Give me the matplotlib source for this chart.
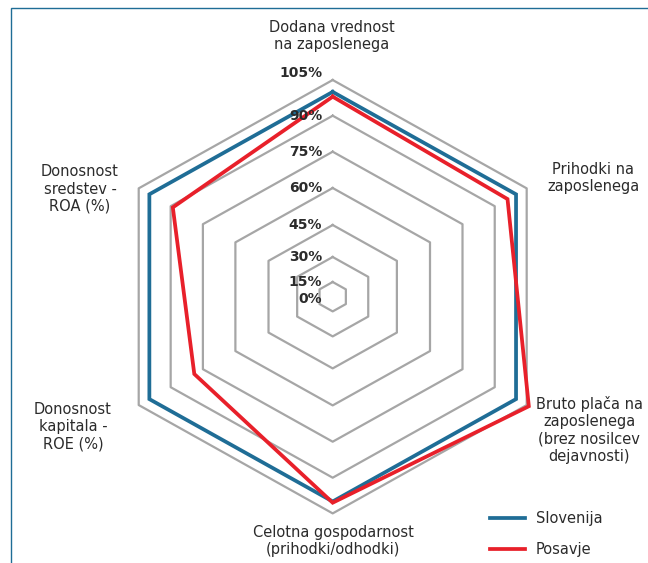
import matplotlib
matplotlib.use('Agg')
import matplotlib.pyplot as plt
from matplotlib.patches import Rectangle
import numpy as np

# podatki (indeks, Slovenija = 100 %)
categories = [
    "Dodana vrednost\nna zaposlenega",
    "Prihodki na\nzaposlenega",
    "Bruto plača na\nzaposlenega\n(brez nosilcev\ndejavnosti)",
    "Celotna gospodarnost\n(prihodki/odhodki)",
    "Donosnost\nkapitala -\nROE (%)",
    "Donosnost\nsredstev -\nROA (%)",
]
slovenija = [100, 100, 100, 100, 100, 100]
posavje = [98, 96, 106, 100.5, 79, 89]
ring_values = [0, 15, 30, 45, 60, 75, 90, 105]

# radialna skala v izvirniku ni linearna pri dnu
scale_knots = [0, 14.7, 39.7, 71.7, 108.7, 145, 181, 216.7]
TOP_SLOPE = (scale_knots[-1] - scale_knots[-2]) / 15.0


def fwd(v):
    v = np.asarray(v, dtype=float)
    out = np.interp(v, ring_values, scale_knots)
    out = np.where(v > ring_values[-1], scale_knots[-1] + (v - ring_values[-1]) * TOP_SLOPE, out)
    out = np.where(v < 0, v, out)
    return out


def inv(r):
    r = np.asarray(r, dtype=float)
    out = np.interp(r, scale_knots, ring_values)
    out = np.where(r > scale_knots[-1], ring_values[-1] + (r - scale_knots[-1]) / TOP_SLOPE, out)
    out = np.where(r < 0, r, out)
    return out


BLUE = '#1f6d96'
RED = '#e8202a'
GREY = '#a6a6a6'
TXT = '#2b2b2b'

W, H = 648, 563
fig = plt.figure(figsize=(W / 100, H / 100), dpi=100)
fig.patch.set_facecolor('white')

# okvir (zgoraj in levo)
fig.patches.append(Rectangle((10.5 / W, -0.2), 1.2, (H - 7.5) / H + 0.2, transform=fig.transFigure,
                             fill=False, edgecolor=BLUE, linewidth=1.0, clip_on=False))

cx, cy = 332.7, 296.7
rx, ry = 224.0, 216.7
ax = fig.add_axes([(cx - rx) / W, (H - cy - ry) / H, 2 * rx / W, 2 * ry / H], projection='polar')
ax.set_aspect('auto')
ax.set_theta_offset(np.pi / 2)
ax.set_theta_direction(-1)
ax.set_rscale('function', functions=(fwd, inv))
ax.set_ylim(0, 105)
ax.grid(False)
ax.set_xticks([])
ax.set_yticks([])
ax.spines['polar'].set_visible(False)
ax.patch.set_visible(False)

n = len(categories)
angles = np.linspace(0, 2 * np.pi, n, endpoint=False)
closed = np.append(angles, angles[0])

for v in ring_values[1:]:
    ax.plot(closed, [v] * (n + 1), color=GREY, linewidth=1.6, zorder=1, clip_on=False)

l1, = ax.plot(closed, slovenija + slovenija[:1], color=BLUE, linewidth=2.7, zorder=3,
              clip_on=False, solid_joinstyle='miter', label='Slovenija')
l2, = ax.plot(closed, posavje + posavje[:1], color=RED, linewidth=2.7, zorder=4,
              clip_on=False, solid_joinstyle='miter', label='Posavje')

for v in ring_values:
    dy = 5 if v == ring_values[-1] else (-1.5 if v == 0 else 0)
    ax.annotate(f"{v}%", xy=(0, v), xytext=(-7.5, dy), textcoords='offset points',
                ha='right', va='center', fontsize=10, fontweight='bold', color=TXT,
                annotation_clip=False, zorder=5)

# oznake kategorij
label_pos = [
    (332, 36, 'center'),
    (593, 178, 'center'),
    (589, 430, 'center'),
    (333, 541, 'center'),
    (73, 427, 'center'),
    (80, 189, 'center'),
]
for text, (px, py, ha) in zip(categories, label_pos):
    fig.text(px / W, 1 - py / H, text, ha=ha, va='center', fontsize=10.5,
             color=TXT, linespacing=1.2, multialignment='center')

fig.legend(handles=[l1, l2], loc='center left', bbox_to_anchor=(490 / W, 1 - 534 / H),
           frameon=False, fontsize=10.5, handlelength=2.4, handletextpad=0.75,
           labelspacing=1.1, borderpad=0, borderaxespad=0, labelcolor=TXT)

fig.savefig('out.png', dpi=100)
